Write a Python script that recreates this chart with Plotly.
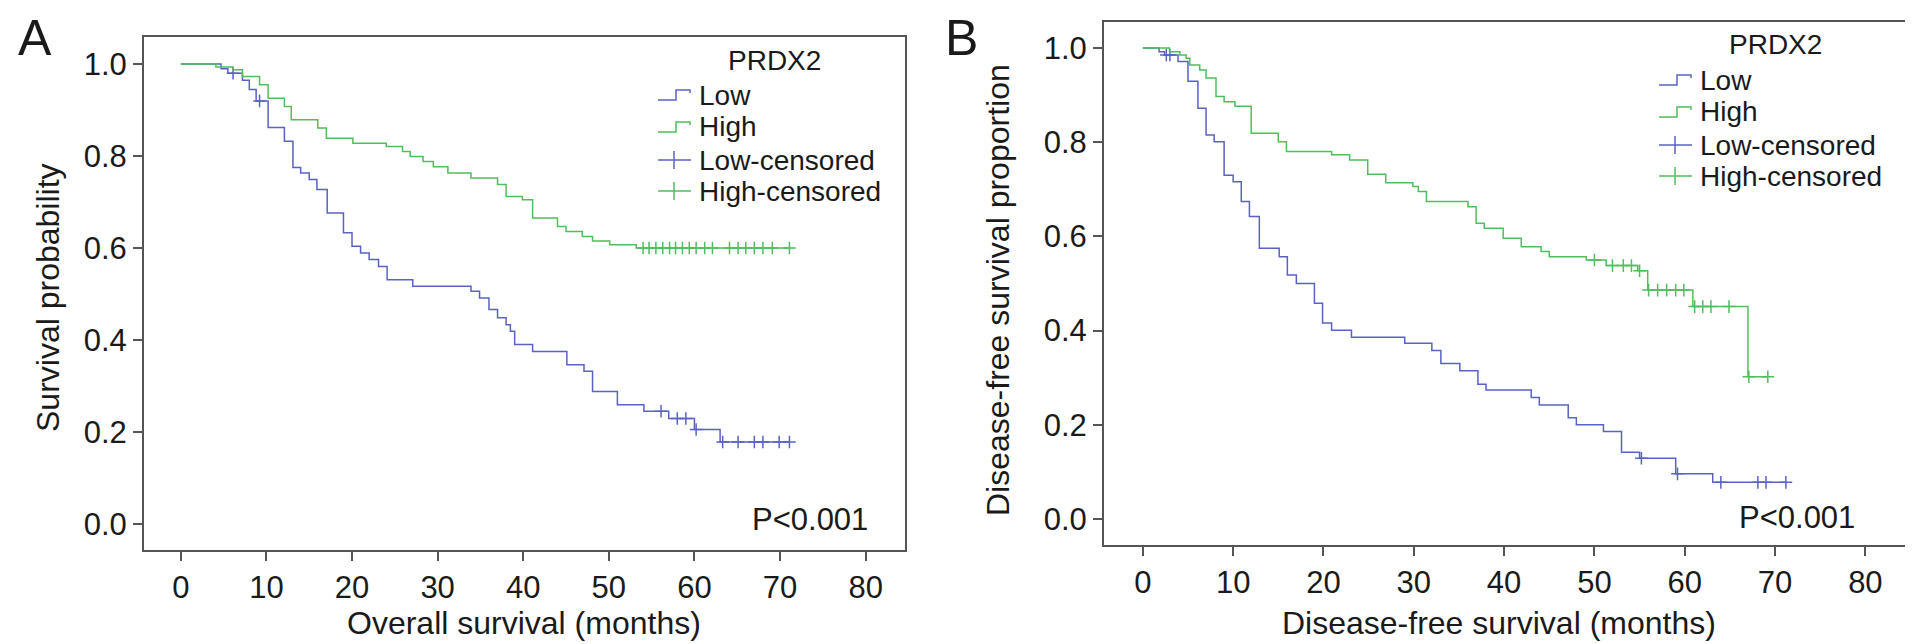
import numpy as np
import plotly.graph_objects as go

# ---- data (months, survival after each step) ----
# panel A : overall survival
a_low_t = [0, 4.7, 5.5, 7.2, 8.0, 8.8, 10.2, 12.1, 13.1, 14.0, 15.0, 15.9,
           17.1, 19.0, 20.0, 21.0, 22.0, 23.1, 24.1, 27.1, 33.9, 34.9, 36.0, 37.0,
           38.0, 38.5, 39.0, 41.1, 45.1, 47.1, 48.1, 51.0, 54.1, 57.0, 60.0, 63.0]
a_low_s = [1.0, 0.99, 0.98, 0.965, 0.945, 0.92, 0.862, 0.832, 0.775, 0.763, 0.749, 0.727,
           0.676, 0.633, 0.604, 0.589, 0.575, 0.560, 0.531, 0.517, 0.506, 0.491, 0.466, 0.448,
           0.433, 0.419, 0.390, 0.375, 0.346, 0.332, 0.288, 0.259, 0.245, 0.229, 0.205, 0.178]
a_low_cens = [6.1, 9.2, 56.1, 58.0, 59.0, 60.2, 63.3, 65.1, 67.0, 68.0, 69.9, 71.1]

a_high_t = [0, 4.1, 6.1, 7.2, 9.2, 10.2, 12.1, 12.9, 16.0, 17.0, 20.1, 24.0, 25.9, 26.8,
            28.3, 29.5, 31.2, 33.9, 37.0, 38.0, 39.9, 41.1, 44.0, 45.0, 46.9, 48.1, 50.1, 53.2]
a_high_s = [1.0, 0.994, 0.988, 0.973, 0.955, 0.926, 0.908, 0.879, 0.861, 0.839, 0.828, 0.821,
            0.810, 0.799, 0.788, 0.777, 0.763, 0.752, 0.738, 0.712, 0.705, 0.665, 0.647,
            0.636, 0.625, 0.615, 0.607, 0.600]
a_high_cens = [54.0, 54.7, 55.5, 56.3, 57.1, 57.8, 58.6, 59.4, 60.2, 61.2, 62.1,
               64.1, 65.1, 66.0, 67.0, 68.0, 69.1, 71.1]

# panel B : disease-free survival
b_low_t = [0, 1.8, 2.4, 3.9, 5.0, 6.1, 7.0, 7.9, 9.0, 10.0, 10.9, 11.8,
           12.9, 15.1, 16.0, 17.0, 19.0, 19.9, 20.9, 23.1, 29.0, 32.0, 33.0, 35.1,
           37.1, 38.0, 43.0, 43.9, 47.1, 48.0, 51.0, 53.0, 55.0, 59.0, 63.1]
b_low_s = [1.0, 0.992, 0.985, 0.971, 0.929, 0.872, 0.815, 0.801, 0.730, 0.716, 0.674, 0.642,
           0.575, 0.557, 0.518, 0.500, 0.458, 0.416, 0.401, 0.386, 0.373, 0.358, 0.330, 0.315,
           0.286, 0.274, 0.258, 0.242, 0.215, 0.200, 0.186, 0.142, 0.129, 0.096, 0.078]
b_low_cens = [2.6, 3.0, 55.2, 59.2, 64.0, 68.1, 69.0, 71.2]

b_high_t = [0, 2.95, 4.1, 4.8, 5.2, 6.3, 7.0, 8.1, 9.0, 10.2, 12.0, 15.0,
            15.9, 20.9, 22.9, 24.9, 26.9, 29.9, 30.5, 31.4, 36.0, 36.9, 37.8, 39.9,
            41.9, 44.1, 45.0, 49.1, 51.3, 54.8, 55.9, 60.9, 67.0]
b_high_s = [1.0, 0.992, 0.985, 0.978, 0.964, 0.953, 0.936, 0.897, 0.886, 0.876, 0.819, 0.801,
            0.780, 0.773, 0.762, 0.732, 0.714, 0.706, 0.695, 0.674, 0.663, 0.628, 0.617, 0.596,
            0.578, 0.568, 0.557, 0.550, 0.538, 0.527, 0.486, 0.451, 0.302]
b_high_cens = [50.0, 52.0, 53.2, 54.1, 55.0, 56.0, 57.0, 58.0, 59.0, 59.9,
               61.1, 62.0, 62.9, 64.9, 67.1, 69.2]

x_ticks = [0, 10, 20, 30, 40, 50, 60, 70, 80]
y_ticks = [0.0, 0.2, 0.4, 0.6, 0.8, 1.0]
legend_title = "PRDX2"
legend_names = ["Low", "High", "Low-censored", "High-censored"]

BLUE = "#5a62c4"
GREEN = "#4fbf5b"
AXC = "#555555"
TXT = "#1a1a1a"
FONT = "Liberation Sans, Arial, Helvetica, sans-serif"
W, H = 1913, 644


def px_x(p):
    return p / W


def px_y(p):
    return 1 - p / H


def step_value(t, s, c):
    i = np.searchsorted(np.array(t), c, side="right") - 1
    return s[i]


def km_traces(t, s, cens, color, xa, ya):
    end = max(cens[-1], t[-1])
    line = go.Scatter(x=list(t) + [end], y=list(s) + [s[-1]], mode="lines",
                      line=dict(color=color, width=1.5, shape="hv"),
                      xaxis=xa, yaxis=ya, hoverinfo="x+y")
    cy = [step_value(t, s, c) for c in cens]
    marks = go.Scatter(x=cens, y=cy, mode="markers",
                       marker=dict(symbol="cross-thin", size=9, color=color,
                                   line=dict(color=color, width=1.5)),
                       xaxis=xa, yaxis=ya, hoverinfo="x+y")
    return [line, marks]


fig = go.Figure()
for tr in (km_traces(a_low_t, a_low_s, a_low_cens, BLUE, "x", "y")
           + km_traces(a_high_t, a_high_s, a_high_cens, GREEN, "x", "y")
           + km_traces(b_low_t, b_low_s, b_low_cens, BLUE, "x2", "y2")
           + km_traces(b_high_t, b_high_s, b_high_cens, GREEN, "x2", "y2")):
    fig.add_trace(tr)

ax_common = dict(showline=True, mirror=True, linecolor=AXC, linewidth=2,
                 ticks="outside", ticklen=9, tickwidth=2, tickcolor=AXC,
                 showgrid=False, zeroline=False,
                 tickfont=dict(size=31, color=TXT, family=FONT))

fig.update_layout(
    width=W, height=H, margin=dict(l=0, r=0, t=0, b=0),
    paper_bgcolor="white", plot_bgcolor="white", showlegend=False,
    font=dict(family=FONT, color=TXT),
    xaxis=dict(ax_common, domain=[px_x(136), px_x(897)], range=[-4.3, 84.6],
               tickvals=x_ticks, anchor="y"),
    yaxis=dict(ax_common, domain=[px_y(542), px_y(29)], range=[-0.057, 1.059],
               tickvals=y_ticks, tickformat=".1f", anchor="x"),
    xaxis2=dict(ax_common, domain=[px_x(1096), px_x(1898)], range=[-4.3, 84.5],
                tickvals=x_ticks, anchor="y2"),
    yaxis2=dict(ax_common, domain=[px_y(537), px_y(14)], range=[-0.055, 1.055],
                tickvals=y_ticks, tickformat=".1f", anchor="x2"),
)

ann = [
    dict(text="A", x=px_x(27), y=px_y(30), font=dict(size=50)),
    dict(text="B", x=px_x(953), y=px_y(30), font=dict(size=50)),
    dict(text="Survival probability", x=px_x(40), y=px_y(290), textangle=-90, font=dict(size=32)),
    dict(text="Disease-free survival proportion", x=px_x(990), y=px_y(282), textangle=-90,
         font=dict(size=32)),
    dict(text="Overall survival (months)", x=px_x(516), y=px_y(615), font=dict(size=32)),
    dict(text="Disease-free survival (months)", x=px_x(1491), y=px_y(615), font=dict(size=32)),
    dict(text="P<0.001", x=px_x(862), y=px_y(511), xanchor="right", font=dict(size=31)),
    dict(text="P<0.001", x=px_x(1849), y=px_y(509), xanchor="right", font=dict(size=31)),
]

# hand-made legends (step glyph for curves, "+" for censored), top right of each panel
shapes = []
row_dy = [0, 32, 65, 96]
glyph_color = [BLUE, GREEN, BLUE, GREEN]
for gx, gy in [(650, 87), (1651, 72)]:
    ann.append(dict(text=legend_title, x=px_x(gx + 116), y=px_y(gy - 35), font=dict(size=28)))
    for k, name in enumerate(legend_names):
        y0 = gy + row_dy[k]
        ann.append(dict(text=name, x=px_x(gx + 39), y=px_y(y0), xanchor="left",
                        font=dict(size=28)))
        col = glyph_color[k]
        if k < 2:
            path = "M {} {} L {} {} L {} {} L {} {} L {} {}".format(
                px_x(gx), px_y(y0 + 5), px_x(gx + 18), px_y(y0 + 5),
                px_x(gx + 18), px_y(y0 - 5), px_x(gx + 32), px_y(y0 - 5),
                px_x(gx + 32), px_y(y0 - 2))
            shapes.append(dict(type="path", path=path, xref="paper", yref="paper",
                               line=dict(color=col, width=1.5)))
        else:
            shapes.append(dict(type="line", xref="paper", yref="paper",
                               x0=px_x(gx), x1=px_x(gx + 33), y0=px_y(y0), y1=px_y(y0),
                               line=dict(color=col, width=1.5)))
            shapes.append(dict(type="line", xref="paper", yref="paper",
                               x0=px_x(gx + 16), x1=px_x(gx + 16),
                               y0=px_y(y0 - 9), y1=px_y(y0 + 9),
                               line=dict(color=col, width=1.5)))

for a in ann:
    a.setdefault("xanchor", "center")
    a.update(xref="paper", yref="paper", yanchor="middle", showarrow=False)
    a["font"].update(family=FONT, color=TXT)
    fig.add_annotation(**a)
fig.update_layout(shapes=shapes)

fig.write_html("out.html")
